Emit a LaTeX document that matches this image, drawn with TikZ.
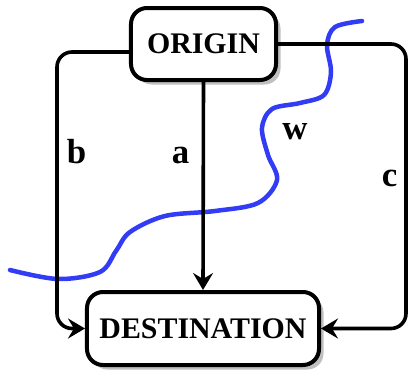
\documentclass[tikz,border=0pt]{standalone}
\usepackage{fontspec}
\setmainfont{Liberation Serif}
\usetikzlibrary{arrows.meta,shadows}
\definecolor{wblue}{RGB}{50,60,245}
\tikzset{
    box/.style={draw, line width=4bp, rounded corners=16bp, fill=white, minimum height=72bp,
        inner sep=0pt, font=\fontsize{30}{31}\selectfont\bfseries,
        drop shadow={shadow xshift=4.5bp, shadow yshift=-4.5bp, fill=black!25, opacity=1}},
    link/.style={line width=3.6bp, rounded corners=15bp, -{Stealth[length=17bp, width=20bp, inset=6bp]}},
    lbl/.style={font=\fontsize{35}{36}\selectfont\bfseries, inner sep=0pt}
}

\begin{document}
\begin{tikzpicture}[x=1bp, y=-1bp]
    \useasboundingbox (0,0) rectangle (409,371);
    \draw[wblue, line width=4.5bp, line cap=round] plot[smooth, tension=0.55] coordinates {
        (10,270) (58,279) (100,272) (116,251) (130,232) (165,216) (215,211)
        (258,203) (277,180) (268,155) (262,128) (272,109) (300,103) (324,95)
        (331,72) (327,45) (335,27) (362,21)};
    \node[box, minimum width=145bp] (ORIGIN) at (203.5,44) {ORIGIN};
    \node[box, minimum width=232bp, minimum height=73bp] (DESTINATION) at (203,328.5) {DESTINATION};
    \coordinate (bcorner) at (57,328.5);
    \coordinate (ccorner) at (406,328.5);
    \draw[link] ([yshift=-8bp]ORIGIN.west) -| (bcorner) -- (DESTINATION.west);
    \draw[link] (ORIGIN.south) -- (DESTINATION.north);
    \draw[link] (ORIGIN.east) -| (ccorner) -- (DESTINATION.east);
    \node[lbl] (b) at (76.5,151.5) {b};
    \node[lbl] (a) at (180.5,155) {a};
    \node[lbl] (w) at (295,131.5) {w};
    \node[lbl] (c) at (389.5,178) {c};
\end{tikzpicture}
\end{document}
